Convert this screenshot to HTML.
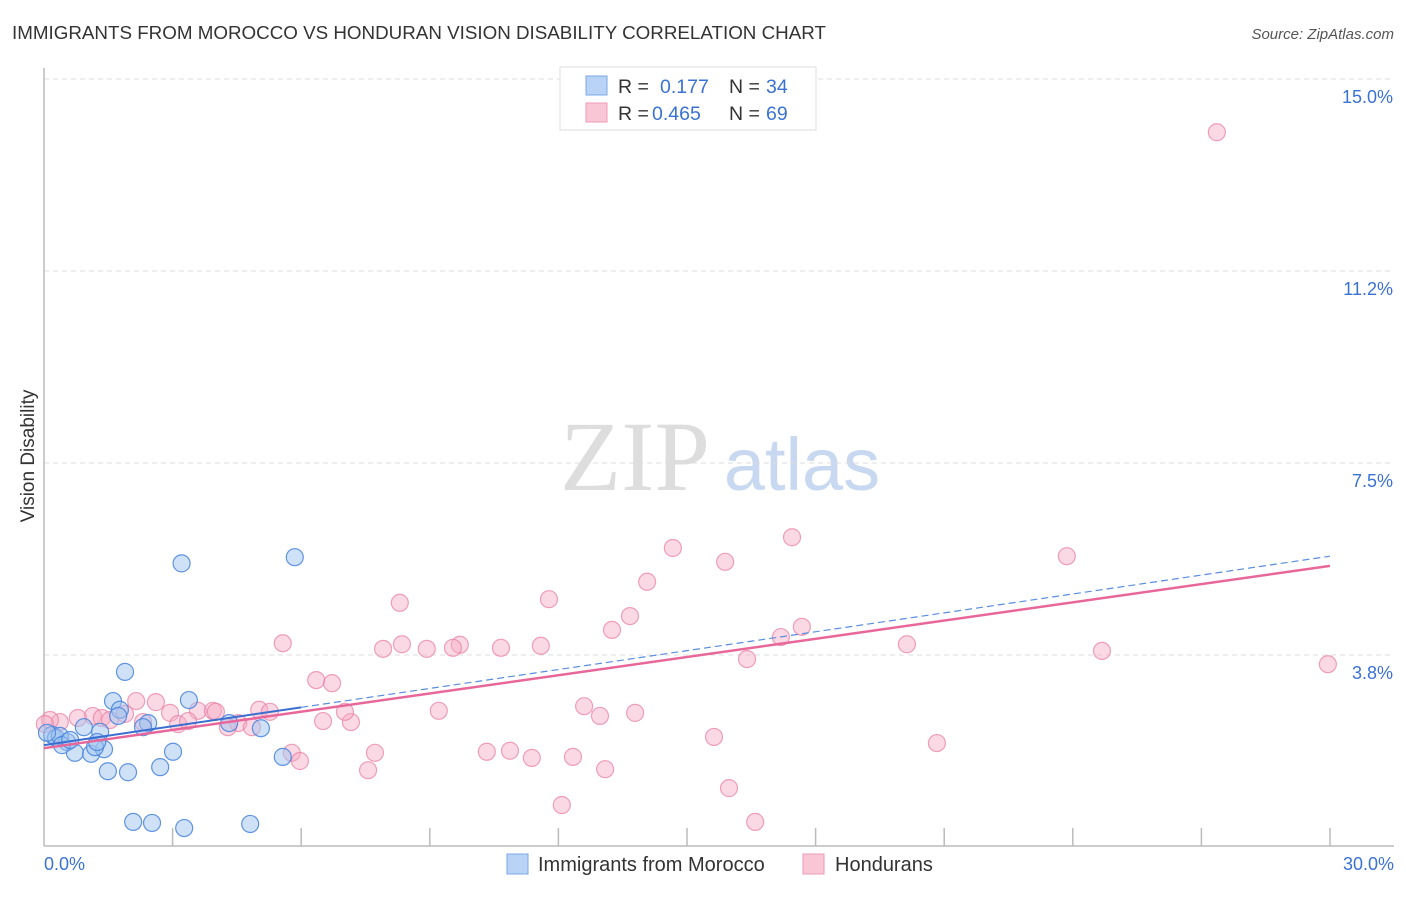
<!DOCTYPE html>
<html><head><meta charset="utf-8"><style>
body{margin:0;background:#fff;width:1406px;height:892px;overflow:hidden;font-family:"Liberation Sans",sans-serif}
</style></head><body>
<svg id="chart" width="1406" height="892" xmlns="http://www.w3.org/2000/svg" font-family="Liberation Sans, sans-serif">
<text x="12" y="39" font-size="18.8" fill="#333">IMMIGRANTS FROM MOROCCO VS HONDURAN VISION DISABILITY CORRELATION CHART</text>
<text x="1394" y="39" font-size="15" fill="#555" font-style="italic" text-anchor="end">Source: ZipAtlas.com</text>
<text transform="translate(34,456) rotate(-90)" font-size="19" fill="#333" text-anchor="middle">Vision Disability</text>
<g><text x="635" y="490" font-size="100" font-family="Liberation Serif, serif" fill="#ddd" text-anchor="middle">ZIP</text><text x="802" y="490" font-size="74" fill="#c8d8f0" text-anchor="middle">atlas</text></g>
<g id="grid"></g><g id="axes"></g><g id="marks"></g>
<g>
<rect x="560" y="67" width="256" height="63" fill="#fff" stroke="#ddd"/>
<rect x="586" y="76" width="21" height="19" fill="#b8d3f5" stroke="#7aa8e6"/>
<rect x="586" y="103" width="21" height="19" fill="#f9c6d5" stroke="#ee9ab5"/>
<text x="618" y="93" font-size="19.5" fill="#333">R = </text><text x="660" y="93" font-size="19.5" fill="#3a72d4">0.177</text>
<text x="729" y="93" font-size="19.5" fill="#333">N = </text><text x="766" y="93" font-size="19.5" fill="#3a72d4">34</text>
<text x="618" y="120" font-size="19.5" fill="#333">R = </text><text x="652" y="120" font-size="19.5" fill="#3a72d4">0.465</text>
<text x="729" y="120" font-size="19.5" fill="#333">N = </text><text x="766" y="120" font-size="19.5" fill="#3a72d4">69</text>
</g>
<g>
<rect x="507" y="854" width="21" height="20" fill="#b8d3f5" stroke="#7aa8e6"/>
<text x="538" y="871" font-size="20" fill="#333">Immigrants from Morocco</text>
<rect x="803" y="854" width="21" height="20" fill="#f9c6d5" stroke="#ee9ab5"/>
<text x="835" y="871" font-size="20" fill="#333">Hondurans</text>
</g>
</svg>
<script>
const yTicks=[3.8,7.5,11.2,15.0];
const yTickVals=[3.75,7.5,11.25,15.0];
const xTickLabels=["0.0%","30.0%"];
const blueX=[3.21,5.85,1.89,1.61,3.38,1.77,1.73,2.43,4.32,5.06,0.93,1.31,0.19,0.28,0.54,0.72,1.10,1.40,1.19,1.49,1.96,2.71,3.01,5.57,2.08,2.52,3.27,4.81,0.37,0.07,2.31,1.24,0.42,0.61];
const blueY=[5.54,5.66,3.42,2.85,2.87,2.68,2.56,2.42,2.42,2.32,2.34,2.25,2.19,2.13,2.05,1.84,1.82,1.91,1.95,1.48,1.46,1.56,1.86,1.76,0.49,0.47,0.37,0.45,2.17,2.23,2.34,2.05,1.99,2.09];
const pinkX=[27.36,17.45,14.67,23.86,15.89,11.78,14.07,8.30,13.67,13.25,17.68,17.19,8.35,8.93,9.70,10.66,24.68,29.95,16.40,5.57,20.13,7.91,9.54,11.59,6.35,6.72,2.15,2.61,12.60,13.79,9.21,12.97,5.02,5.27,3.59,3.94,2.94,4.01,1.89,1.14,0.79,0.37,0.14,1.35,6.51,7.16,7.02,4.53,4.29,4.85,3.13,2.31,3.36,15.63,20.83,5.78,5.97,7.72,10.33,10.87,11.38,12.34,7.56,13.09,12.08,15.98,16.59,0.02,1.54];
const pinkY=[13.96,6.05,5.84,5.68,5.57,4.84,5.18,4.77,4.51,4.24,4.30,4.10,3.96,3.87,3.95,3.89,3.83,3.57,3.67,3.98,3.96,3.87,3.89,3.93,3.26,3.20,2.85,2.83,2.75,2.62,2.66,2.56,2.68,2.64,2.66,2.66,2.62,2.64,2.60,2.56,2.52,2.44,2.48,2.52,2.46,2.44,2.64,2.42,2.34,2.34,2.40,2.44,2.46,2.15,2.03,1.84,1.68,1.84,1.86,1.88,1.74,1.76,1.50,1.52,0.82,1.15,0.49,2.40,2.48];
const pinkTrend=[1.93,5.49];
const blueTrend=[1.99,5.68];
const X0=44,X1=1330,Y0=847,PXY=51.2;
const sx=v=>X0+(X1-X0)*v/30, sy=v=>Y0-v*PXY;
const NS='http://www.w3.org/2000/svg';
function mk(t,a,p){const e=document.createElementNS(NS,t);for(const k in a)e.setAttribute(k,a[k]);p.appendChild(e);return e;}
const grid=document.getElementById('grid'),axes=document.getElementById('axes'),marks=document.getElementById('marks');
yTickVals.forEach((v,i)=>{
 const l=mk('line',{x1:44,x2:1394,y1:sy(v),y2:sy(v),stroke:'#ddd','stroke-dasharray':'5,4'},grid);
 
 
 const t=mk('text',{x:1393,y:sy(v)+24,'font-size':18,fill:'#3a72d4','text-anchor':'end'},axes);
 t.textContent=yTicks[i].toFixed(1)+'%';
 
 
});
const ya=mk('line',{x1:44,x2:44,y1:68,y2:846,stroke:'#bbb','stroke-width':1.5},axes);


const xa=mk('line',{x1:44,x2:1394,y1:846,y2:846,stroke:'#bbb','stroke-width':1.5},axes);


for(let i=1;i<=10;i++){const x=44+i*128.6;
 const t=mk('line',{x1:x,x2:x,y1:828,y2:846,stroke:'#bbb','stroke-width':1.5},axes);
 
 }
[[44,'start',0],[1394,'end',1]].forEach(([x,a,i])=>{
 const t=mk('text',{x:x,y:870,'font-size':18,fill:'#3a72d4','text-anchor':a},axes);
 t.textContent=xTickLabels[i];
 
 });
pinkX.forEach((v,i)=>{const c=mk('circle',{cx:sx(v),cy:sy(pinkY[i]),r:8.5,fill:'rgba(246,170,195,0.45)',stroke:'rgba(232,130,165,0.75)','stroke-width':1.2},marks);
 
 });
blueX.forEach((v,i)=>{const c=mk('circle',{cx:sx(v),cy:sy(blueY[i]),r:8.5,fill:'rgba(160,196,240,0.5)',stroke:'rgba(70,130,220,0.85)','stroke-width':1.2},marks);
 
 });
const bAt=x=>blueTrend[0]+(blueTrend[1]-blueTrend[0])*x/30;
const bd=mk('line',{x1:sx(6),y1:sy(bAt(6)),x2:sx(30),y2:sy(bAt(30)),stroke:'#5a8de0','stroke-width':1.2,'stroke-dasharray':'7,4'},marks);


const pt=mk('line',{x1:sx(0),y1:sy(pinkTrend[0]),x2:sx(30),y2:sy(pinkTrend[1]),stroke:'#e8679a','stroke-width':2.5},marks);


const bs=mk('line',{x1:sx(0),y1:sy(bAt(0)),x2:sx(6),y2:sy(bAt(6)),stroke:'#3a6fd0','stroke-width':2},marks);


</script>
</body></html>
